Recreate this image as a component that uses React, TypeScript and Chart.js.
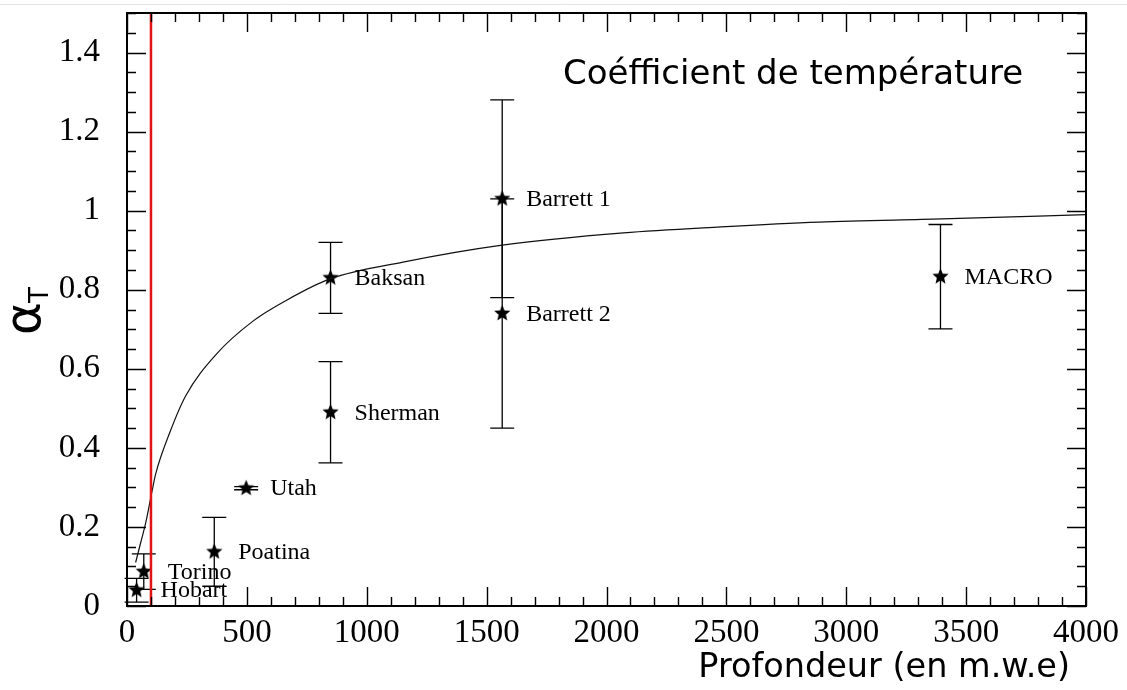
import React, { useEffect, useRef } from "react";
import { Chart, registerables } from "chart.js";

Chart.register(...registerables);

// Measured temperature coefficients per underground site
const experiments = ["Hobart", "Torino", "Poatina", "Utah", "Sherman", "Baksan", "Barrett 1", "Barrett 2", "MACRO"];
const depthMwe = [40, 70, 364, 497, 849, 849, 1565, 1565, 3393];
const alphaT = [0.04, 0.087, 0.137, 0.298, 0.49, 0.83, 1.03, 0.74, 0.833];
const alphaErr = [0.03, 0.045, 0.087, 0.004, 0.128, 0.09, 0.25, 0.29, 0.132];

// Expected alpha_T as a function of depth
const curveDepth = [36, 57, 78, 103, 120, 176, 245, 371, 524, 664, 849, 1151, 1565, 2071, 2477, 2887, 3398, 4000];
const curveAlpha = [0.11, 0.16, 0.21, 0.286, 0.335, 0.435, 0.532, 0.636, 0.72, 0.773, 0.828, 0.87, 0.913, 0.944, 0.959, 0.971, 0.979, 0.99];

// Vertical marker depth
const cutDepth = [100, 100];
const cutAlpha = [0, 1.5];

// Axis ticks
const xTickValues = [0, 500, 1000, 1500, 2000, 2500, 3000, 3500, 4000];
const yTickValues = [0, 0.2, 0.4, 0.6, 0.8, 1, 1.2, 1.4];
const xMinorStep = 100;
const yMinorStep = 0.05;

const titleText = "Coéfficient de température";
const xTitleText = "Profondeur (en m.w.e)";

const SERIF = "'Liberation Serif', 'DejaVu Serif', serif";
const SANS = "'DejaVu Sans', sans-serif";

function makeStar(r: number): HTMLCanvasElement {
  const c = document.createElement("canvas");
  const s = Math.ceil(r * 2 + 2);
  c.width = s;
  c.height = s;
  const g = c.getContext("2d")!;
  g.beginPath();
  for (let i = 0; i < 10; i++) {
    const rad = i % 2 === 0 ? r : r * 0.45;
    const a = -Math.PI / 2 + (i * Math.PI) / 5;
    g.lineTo(s / 2 + rad * Math.cos(a), s / 2 + rad * Math.sin(a));
  }
  g.closePath();
  g.fillStyle = "#000";
  g.fill();
  return c;
}

const framePlugin = {
  id: "frame",
  beforeDatasetsDraw(chart: any) {
    const { ctx, scales } = chart;
    const x = scales.x;
    const y = scales.y;
    ctx.save();
    ctx.strokeStyle = "#000";
    ctx.lineWidth = 1.3;
    const cap = 12;
    depthMwe.forEach((d, i) => {
      const px = x.getPixelForValue(d);
      const lo = y.getPixelForValue(alphaT[i] - alphaErr[i]);
      const hi = y.getPixelForValue(alphaT[i] + alphaErr[i]);
      ctx.beginPath();
      ctx.moveTo(px, lo);
      ctx.lineTo(px, hi);
      ctx.moveTo(px - cap, lo);
      ctx.lineTo(px + cap, lo);
      ctx.moveTo(px - cap, hi);
      ctx.lineTo(px + cap, hi);
      ctx.stroke();
    });
    ctx.restore();
  },
  afterDatasetsDraw(chart: any) {
    const { ctx, scales } = chart;
    const x = scales.x;
    const y = scales.y;
    ctx.save();
    ctx.fillStyle = "#000";
    ctx.font = `24px ${SERIF}`;
    ctx.textAlign = "left";
    ctx.textBaseline = "middle";
    experiments.forEach((name, i) => {
      ctx.fillText(name, x.getPixelForValue(depthMwe[i]) + 24, y.getPixelForValue(alphaT[i]) + 1);
    });
    ctx.restore();
  },
  afterDraw(chart: any) {
    const { ctx, chartArea, scales, width } = chart;
    const { left, right, top, bottom } = chartArea;
    const x = scales.x;
    const y = scales.y;
    ctx.save();

    // faint rule along the top edge
    ctx.strokeStyle = "#e4e4e4";
    ctx.lineWidth = 1;
    ctx.beginPath();
    ctx.moveTo(0, 4.5);
    ctx.lineTo(width, 4.5);
    ctx.stroke();

    // plot frame
    ctx.strokeStyle = "#000";
    ctx.lineWidth = 2;
    ctx.strokeRect(left, top, right - left, bottom - top);

    // inward ticks on all four sides
    ctx.lineWidth = 1.4;
    ctx.beginPath();
    for (let v = x.min; v <= x.max + 1e-9; v += xMinorStep) {
      const px = Math.round(x.getPixelForValue(v)) + 0.5;
      const len = Math.abs(v % 500) < 1e-6 ? 19 : 9;
      ctx.moveTo(px, bottom);
      ctx.lineTo(px, bottom - len);
      ctx.moveTo(px, top);
      ctx.lineTo(px, top + len);
    }
    const nY = Math.round((y.max - y.min) / yMinorStep);
    for (let k = 0; k <= nY; k++) {
      const v = y.min + k * yMinorStep;
      const py = Math.round(y.getPixelForValue(v)) + 0.5;
      const len = k % 4 === 0 ? 19 : 9;
      ctx.moveTo(left, py);
      ctx.lineTo(left + len, py);
      ctx.moveTo(right, py);
      ctx.lineTo(right - len, py);
    }
    ctx.stroke();

    // titles
    ctx.fillStyle = "#000";
    ctx.font = `34px ${SANS}`;
    ctx.textBaseline = "middle";
    ctx.textAlign = "left";
    ctx.fillText(titleText, 563, 75);
    ctx.font = `33.5px ${SANS}`;
    ctx.textAlign = "right";
    ctx.fillText(xTitleText, 1070, 668);

    // y axis title: alpha with subscript T, rotated
    ctx.translate(40, 335);
    ctx.rotate(-Math.PI / 2);
    ctx.textAlign = "left";
    ctx.textBaseline = "alphabetic";
    ctx.font = `50px ${SANS}`;
    ctx.fillText("α", 0, 0);
    const aw = ctx.measureText("α").width;
    ctx.font = `26px ${SANS}`;
    ctx.fillText("T", aw - 1, 8);
    ctx.restore();
  },
};

export default function App() {
  const ref = useRef<HTMLCanvasElement | null>(null);

  useEffect(() => {
    if (!ref.current) return;
    const star = makeStar(8.5);
    const chart = new Chart(ref.current, {
      type: "scatter",
      data: {
        datasets: [
          {
            label: "cut",
            data: cutDepth.map((d, i) => ({ x: d, y: cutAlpha[i] })),
            showLine: true,
            borderColor: "#e01414",
            borderWidth: 2.5,
            pointRadius: 0,
          },
          {
            label: "curve",
            data: curveDepth.map((d, i) => ({ x: d, y: curveAlpha[i] })),
            showLine: true,
            borderColor: "#111",
            borderWidth: 1.2,
            pointRadius: 0,
            cubicInterpolationMode: "monotone",
          },
          {
            label: "alphaT",
            data: depthMwe.map((d, i) => ({ x: d, y: alphaT[i] })),
            showLine: false,
            pointStyle: star as any,
            pointRadius: 9,
          },
        ],
      },
      options: {
        animation: false,
        responsive: false,
        events: [],
        layout: { padding: { left: 0, right: 41, top: 13, bottom: 0 } },
        plugins: { legend: { display: false }, tooltip: { enabled: false } },
        scales: {
          x: {
            type: "linear",
            min: 0,
            max: 4000,
            afterBuildTicks: (s: any) => {
              s.ticks = xTickValues.map((v) => ({ value: v }));
            },
            afterFit: (s: any) => {
              s.height = 84;
              s.paddingLeft = 0;
              s.paddingRight = 0;
            },
            grid: { display: false, drawTicks: false },
            border: { display: false },
            ticks: {
              padding: 8,
              maxRotation: 0,
              color: "#000",
              font: { family: SERIF, size: 33 },
              callback: (v: any) => String(v),
            },
          },
          y: {
            type: "linear",
            min: 0,
            max: 1.5,
            afterBuildTicks: (s: any) => {
              s.ticks = yTickValues.map((v) => ({ value: v }));
            },
            afterFit: (s: any) => {
              s.width = 127;
              s.paddingTop = 0;
              s.paddingBottom = 0;
            },
            grid: { display: false, drawTicks: false },
            border: { display: false },
            ticks: {
              padding: 27,
              color: "#000",
              font: { family: SERIF, size: 33 },
              callback: (v: any) => String(Math.round(Number(v) * 10) / 10),
            },
          },
        },
      },
      plugins: [framePlugin],
    });
    return () => chart.destroy();
  }, []);

  return (
    <div style={{ position: "absolute", left: 0, top: 0, width: 1127, height: 690, background: "#fff" }}>
      <canvas ref={ref} width={1127} height={690} style={{ display: "block" }} />
    </div>
  );
}
